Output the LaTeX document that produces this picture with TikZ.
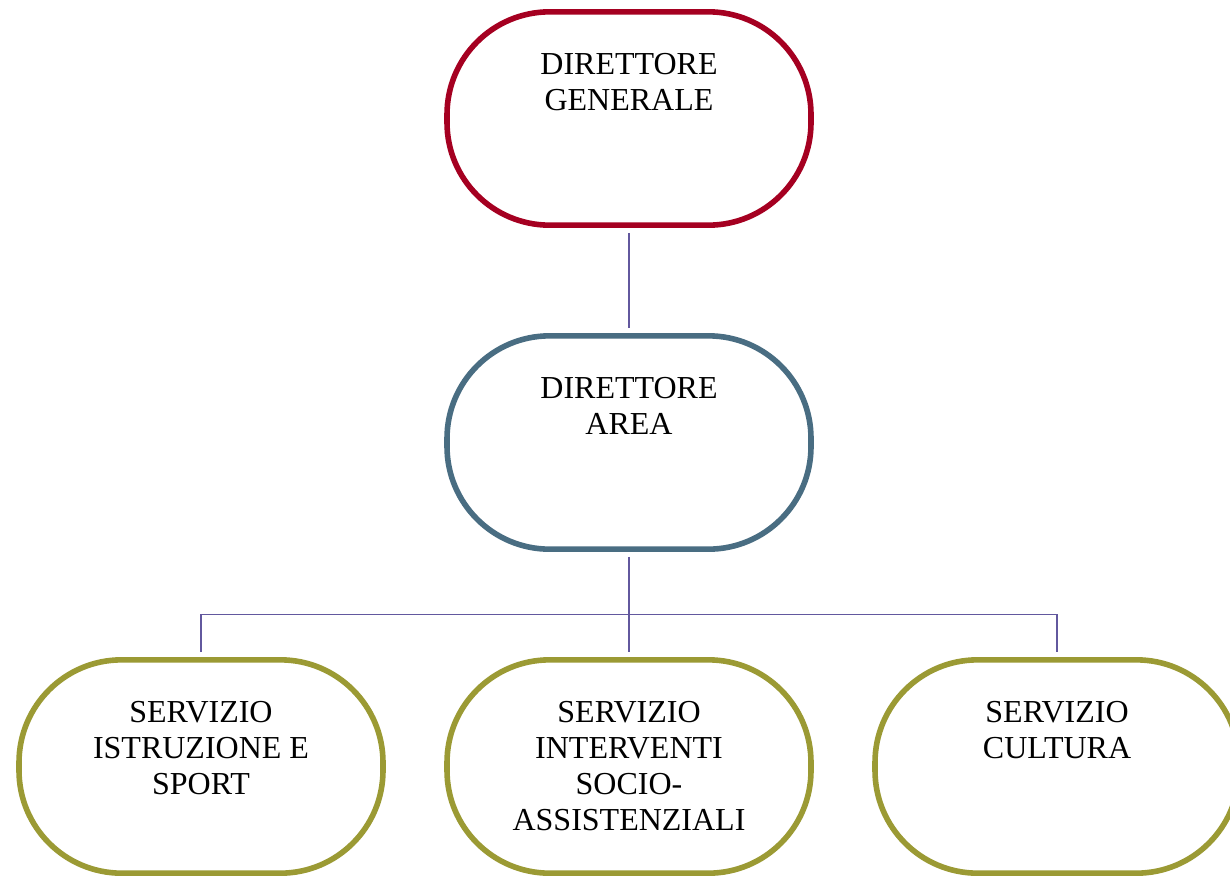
\documentclass[tikz,border=0pt]{standalone}
\usepackage{fontspec}
\setmainfont{Liberation Serif}
\usetikzlibrary{positioning}

\definecolor{dgred}{RGB}{165,0,33}
\definecolor{darea}{RGB}{73,109,130}
\definecolor{serv}{RGB}{155,154,52}
\definecolor{linkc}{RGB}{98,88,158}
\newcommand{\boxtext}[1]{\begin{minipage}[c][160pt][t]{260pt}\centering\vspace*{31pt}#1\end{minipage}}

\begin{document}
\begin{tikzpicture}[x=0.75pt, y=-0.75pt, node distance=243pt, on grid,
    unit/.style={draw, fill=white, rounded corners=77pt, line width=4.2pt,
      minimum width=273pt, minimum height=160pt, inner sep=0pt,
      font=\fontsize{24}{27}\selectfont},
    link/.style={draw=linkc, line width=1.1pt, shorten >=3.75pt, shorten <=3.75pt}]
        \useasboundingbox (0,0) rectangle (1230,875);

        \node[unit, draw=dgred] (G)  at (629,118.5)        {\boxtext{DIRETTORE\\GENERALE}};
        \node[unit, draw=darea] (A)  [below=of G]          {\boxtext{DIRETTORE\\AREA}};
        \node[unit, draw=serv]  (S2) [below=of A]          {\boxtext{SERVIZIO\\INTERVENTI\\SOCIO-\\ASSISTENZIALI}};
        \node[unit, draw=serv]  (S1) [left=321pt of S2]    {\boxtext{SERVIZIO\\ISTRUZIONE E\\SPORT}};
        \node[unit, draw=serv]  (S3) [right=321pt of S2]   {\boxtext{SERVIZIO\\CULTURA}};

        \draw[link] (G) -- (A);
        \draw[link] (A) -- (S2);
        \draw[link] (S1.north) -- ++(0,-42.5) -| (S3.north);
\end{tikzpicture}
\end{document}
